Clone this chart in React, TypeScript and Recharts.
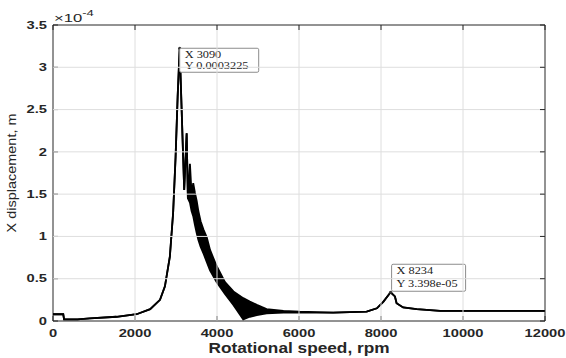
import React from "react";
import { ComposedChart, Area, Line, XAxis, YAxis } from "recharts";

// speed sweep, rpm
const speedRpm = [
  0, 250, 270, 600, 900, 1550, 2040, 2370, 2610, 2730, 2850, 2930, 2990, 3040,
  3090, 3200, 3260, 3290, 3340, 3380, 3420, 3460, 3505, 3545, 3600, 3670, 3750,
  3830, 3990, 4195, 4400, 4640, 4800, 4970, 5210, 5620, 6020, 6830, 7650, 7900,
  8060, 8234, 8340, 8380, 8540, 8870, 9440, 10500, 12000,
];
// lower / upper envelope of the trace, x1e-4 m (same value where it is a single line)
const dispLow = [
  0.08, 0.08, 0.02, 0.02, 0.03, 0.05, 0.08, 0.14, 0.25, 0.41, 0.76, 1.28, 1.94,
  2.65, 3.225, 1.55, 2.22, 1.45, 1.4, 1.3, 1.24, 1.14, 1.04, 0.96, 0.88, 0.8,
  0.7, 0.6, 0.46, 0.32, 0.19, 0.02, 0.05, 0.07, 0.09, 0.1, 0.1, 0.1, 0.11,
  0.15, 0.23, 0.3398, 0.29, 0.21, 0.16, 0.14, 0.12, 0.12, 0.12,
];
const dispHigh = [
  0.08, 0.08, 0.02, 0.02, 0.03, 0.05, 0.08, 0.14, 0.25, 0.41, 0.76, 1.28, 1.94,
  2.65, 3.225, 1.55, 2.22, 1.45, 1.86, 1.5, 1.63, 1.52, 1.42, 1.3, 1.18, 1.08,
  0.99, 0.84, 0.65, 0.46, 0.35, 0.27, 0.23, 0.19, 0.14, 0.12, 0.11, 0.1, 0.11,
  0.15, 0.23, 0.3398, 0.29, 0.21, 0.16, 0.14, 0.12, 0.12, 0.12,
];

const xTicks = [0, 2000, 4000, 6000, 8000, 10000, 12000];
const yTicks = [0, 0.5, 1, 1.5, 2, 2.5, 3, 3.5];

// data tips
const tipX = [3090, 8234];
const tipY = [0.0003225, 3.398e-5];
const tipYText = ["0.0003225", "3.398e-05"];

const data = speedRpm.map((rpm, i) => {
  const t = tipX.indexOf(rpm);
  return {
    rpm,
    band: [dispLow[i], dispHigh[i]],
    tip: t >= 0 ? tipY[t] * 1e4 : null,
  };
});

// layout
const W = 566;
const H = 358;
const MARGIN = { top: 25, right: 21, bottom: 0, left: 0 };
const X_AXIS_H = 37;
const Y_AXIS_W = 53;
const PLOT_TOP = MARGIN.top;
const PLOT_BOTTOM = H - MARGIN.bottom - X_AXIS_H;
const PLOT_LEFT = MARGIN.left + Y_AXIS_W;
const PLOT_RIGHT = W - MARGIN.right;

const INK = "#262626";
const GRID = "#dedede";
const SANS = "'Liberation Sans', Arial, Helvetica, sans-serif";
const SERIF = "'Liberation Serif', 'Times New Roman', serif";

// tick label + its grid line (and the box edge / mirrored tick on top)
function XTick({ x, y, payload, index }: any) {
  const last = payload.value === xTicks[xTicks.length - 1];
  const first = payload.value === xTicks[0];
  return (
    <g>
      {!first && (
        <line x1={x} x2={x} y1={PLOT_TOP} y2={PLOT_BOTTOM} stroke={last ? INK : GRID} strokeWidth={1} />
      )}
      <line x1={x} x2={x} y1={PLOT_TOP} y2={PLOT_TOP + 5} stroke={INK} />
      <g transform={`translate(${x},${y}) scale(1.4,1)`}>
        <text textAnchor="middle" dy={11} fontSize={10.5} fontWeight="bold" fill={INK} fontFamily={SANS}>
          {payload.value}
        </text>
      </g>
    </g>
  );
}

function YTick({ x, y, payload }: any) {
  const last = payload.value === yTicks[yTicks.length - 1];
  const first = payload.value === yTicks[0];
  return (
    <g>
      {!first && (
        <line x1={PLOT_LEFT} x2={PLOT_RIGHT} y1={y} y2={y} stroke={last ? INK : GRID} strokeWidth={1} />
      )}
      <line x1={PLOT_RIGHT - 5} x2={PLOT_RIGHT} y1={y} y2={y} stroke={INK} />
      <g transform={`translate(${x},${y}) scale(1.4,1)`}>
        <text textAnchor="end" dy={3.7} fontSize={10.5} fontWeight="bold" fill={INK} fontFamily={SANS}>
          {payload.value}
        </text>
      </g>
    </g>
  );
}

function XTitle({ viewBox }: any) {
  const { x, y, width } = viewBox;
  return (
    <g transform={`translate(${x + width / 2},${y + 32}) scale(1.15,1)`}>
      <text textAnchor="middle" fontSize={15} fontWeight="bold" fill={INK} fontFamily={SANS}>
        Rotational speed, rpm
      </text>
    </g>
  );
}

function YTitle({ viewBox }: any) {
  const { x, y, width, height } = viewBox;
  return (
    <g>
      <g transform={`translate(${x + 15.5},${y + height / 2}) rotate(-90) scale(1.15,1)`}>
        <text textAnchor="middle" fontSize={12.6} fill={INK} fontFamily={SANS}>
          X displacement, m
        </text>
      </g>
      <g transform={`translate(${x + width + 1},${y - 3.5}) scale(1.45,1)`}>
        <text fontSize={11.5} fill={INK} fontFamily={SANS}>
          {"\u00d710"}
          <tspan fontSize={9} dy={-6}>-4</tspan>
        </text>
      </g>
    </g>
  );
}

function TipDot(props: any) {
  const { cx, cy, payload, index } = props;
  const idx = payload ? tipX.indexOf(payload.rpm) : -1;
  if (idx < 0 || cx == null || cy == null) return <g key={`tip-${index}`} />;
  const above = idx === 1;
  const w = above ? 74 : 79;
  const h = above ? 27 : 24;
  const bx = cx + (above ? 1 : 0);
  const by = above ? cy - h - 1 : cy;
  return (
    <g key={`tip-${index}`}>
      <circle cx={cx} cy={cy} r={1.6} fill="#333" />
      <rect x={bx} y={by} width={w} height={h} rx={1.5} fill="#fff" stroke="#8c8c8c" strokeWidth={1} />
      <g transform={`translate(${bx + 5},${by + 10}) scale(1.12,1)`}>
        <text fontSize={11} fill="#222" fontFamily={SERIF}>
          {`X ${tipX[idx]}`}
        </text>
      </g>
      <g transform={`translate(${bx + 5},${by + (above ? 23 : 21)}) scale(1.12,1)`}>
        <text fontSize={11} fill="#222" fontFamily={SERIF}>
          {`Y ${tipYText[idx]}`}
        </text>
      </g>
    </g>
  );
}

export default function App() {
  return (
    <div style={{ position: "absolute", left: 0, top: 0, background: "#fff" }}>
      <ComposedChart width={W} height={H} data={data} margin={MARGIN}>
        <XAxis
          dataKey="rpm"
          type="number"
          domain={[0, 12000]}
          ticks={xTicks}
          height={X_AXIS_H}
          tickSize={-5}
          tickMargin={10}
          stroke={INK}
          tick={<XTick />}
          label={<XTitle />}
        />
        <YAxis
          type="number"
          domain={[0, 3.5]}
          ticks={yTicks}
          width={Y_AXIS_W}
          tickSize={-5}
          tickMargin={11}
          stroke={INK}
          tick={<YTick />}
          label={<YTitle />}
        />
        <Area
          type="linear"
          dataKey="band"
          stroke="#000"
          strokeWidth={1.8}
          fill="#000"
          fillOpacity={1}
          isAnimationActive={false}
          zIndex={600}
        />
        <Line
          dataKey="tip"
          stroke="none"
          dot={<TipDot />}
          legendType="none"
          isAnimationActive={false}
          zIndex={700}
        />
      </ComposedChart>
    </div>
  );
}
